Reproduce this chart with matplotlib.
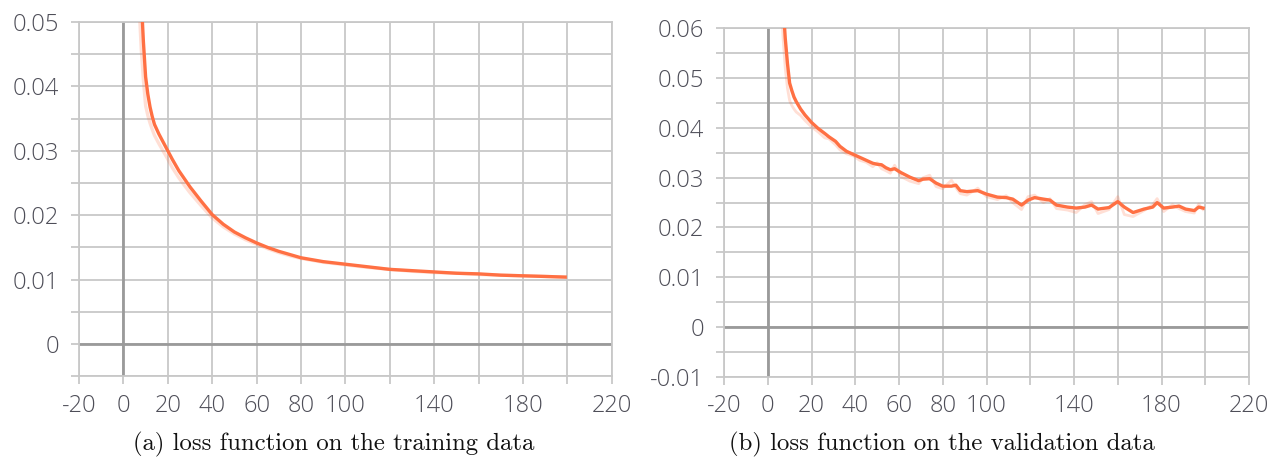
import matplotlib
matplotlib.use("Agg")
import matplotlib.pyplot as plt
from matplotlib.ticker import MultipleLocator

# ---------------- data ----------------
train_epochs = [1, 2, 4, 6, 8, 9, 10, 11, 12, 13, 14, 16, 18, 20, 22, 25, 28, 30, 35, 40,
                45, 50, 55, 60, 65, 70, 75, 80, 90, 100, 110, 120, 130, 140, 150, 160, 170,
                180, 190, 199]
train_smooth = [0.30, 0.20, 0.12, 0.075, 0.054, 0.047, 0.0415, 0.0388, 0.0368, 0.0353,
                0.0341, 0.0326, 0.0313, 0.0300, 0.0287, 0.0269, 0.0254, 0.0244, 0.0222,
                0.0201, 0.0186, 0.0174, 0.0165, 0.0157, 0.0150, 0.0144, 0.0139, 0.0134,
                0.0128, 0.0124, 0.0120, 0.0116, 0.0114, 0.0112, 0.0110, 0.0109, 0.0107,
                0.0106, 0.0105, 0.0104]
train_raw = [0.25, 0.16, 0.09, 0.06, 0.046, 0.041, 0.037, 0.0355, 0.0343, 0.0333,
             0.0324, 0.0311, 0.0299, 0.0287, 0.0274, 0.0258, 0.0244, 0.0235, 0.0215,
             0.0196, 0.0182, 0.0171, 0.0162, 0.0155, 0.0148, 0.0142, 0.0137, 0.0133,
             0.0127, 0.0123, 0.0119, 0.0116, 0.0113, 0.0111, 0.0110, 0.0108, 0.0107,
             0.0106, 0.0105, 0.0104]

val_epochs = [3, 5, 7, 8, 9, 10, 11, 12, 13, 15, 17, 20, 23, 26, 28, 31, 33, 36, 39, 42,
              45, 48, 50, 52, 54, 56, 58, 61, 65, 69, 71, 74, 77, 80, 84, 86, 88, 91, 96, 100,
              105, 109, 112, 116, 119, 122, 126, 129, 132, 137, 141, 145, 148, 151, 156, 160,
              163, 167, 172, 176, 178, 181, 185, 188, 191, 195, 197, 199]
val_smooth = [0.12, 0.085, 0.065, 0.058, 0.053, 0.049, 0.0475, 0.0462, 0.0453, 0.0438,
              0.0426, 0.0411, 0.0399, 0.0389, 0.0382, 0.0373, 0.0363, 0.0353, 0.0347, 0.0341,
              0.0335, 0.0329, 0.0327, 0.0326, 0.0320, 0.0316, 0.0318, 0.0310, 0.0301, 0.0294,
              0.0297, 0.0298, 0.0289, 0.0283, 0.0283, 0.0285, 0.0274, 0.0272, 0.0274, 0.0267,
              0.0261, 0.0260, 0.0257, 0.0245, 0.0255, 0.0260, 0.0257, 0.0255, 0.0245, 0.0241,
              0.0239, 0.0241, 0.0245, 0.0237, 0.0240, 0.0252, 0.0241, 0.0230, 0.0237, 0.0241,
              0.0250, 0.0239, 0.0241, 0.0243, 0.0237, 0.0234, 0.0241, 0.0239]
val_raw = [0.10, 0.075, 0.058, 0.052, 0.048, 0.0455, 0.0445, 0.0438, 0.0432, 0.0425,
           0.0415, 0.0402, 0.0392, 0.0380, 0.0378, 0.0366, 0.0356, 0.0348, 0.0344, 0.0335,
           0.0331, 0.0322, 0.0330, 0.0318, 0.0314, 0.0309, 0.0325, 0.0302, 0.0293, 0.0288,
           0.0300, 0.0305, 0.0282, 0.0278, 0.0295, 0.0280, 0.0268, 0.0265, 0.0279, 0.0262,
           0.0256, 0.0264, 0.0250, 0.0236, 0.0262, 0.0265, 0.0250, 0.0258, 0.0238, 0.0235,
           0.0230, 0.0246, 0.0252, 0.0228, 0.0236, 0.0262, 0.0226, 0.0222, 0.0234, 0.0246,
           0.0258, 0.0232, 0.0246, 0.0238, 0.0232, 0.0229, 0.0247, 0.0236]

x_ticks = [-20, 0, 20, 40, 60, 80, 100, 120, 140, 160, 180, 200, 220]
x_tick_labels = ["-20", "0", "20", "40", "60", "80", "100", "", "140", "", "180", "", "220"]

left_yticks = [0, 0.01, 0.02, 0.03, 0.04, 0.05]
left_ylabels = ["0", "0.01", "0.02", "0.03", "0.04", "0.05"]
right_yticks = [-0.01, 0, 0.01, 0.02, 0.03, 0.04, 0.05, 0.06]
right_ylabels = ["-0.01", "0", "0.01", "0.02", "0.03", "0.04", "0.05", "0.06"]

captions = ["(a) loss function on the training data",
            "(b) loss function on the validation data"]

# ---------------- style ----------------
LINE = "#ff7043"
GRID = "#c8c8c8"
ZERO = "#9a9a9a"
LABEL = "#4e4e58"
TICKFONT = dict(family=["Open Sans", "DejaVu Sans"], weight="light", size=17)

fig = plt.figure(figsize=(12.82, 4.59), dpi=100)
W, H = 1282, 459


def make_axes(px_left, px_right, px_top, px_bottom):
    return fig.add_axes([px_left / W, 1 - px_bottom / H,
                         (px_right - px_left) / W, (px_bottom - px_top) / H])


def style(ax, ylo, yhi, yticks, ylabels):
    ax.set_xlim(-20, 220)
    ax.set_ylim(ylo, yhi)
    ax.set_xticks(x_ticks)
    ax.set_xticklabels(x_tick_labels, color=LABEL, **TICKFONT)
    ax.set_yticks(yticks)
    ax.set_yticklabels(ylabels, color=LABEL, **TICKFONT)
    ax.yaxis.set_minor_locator(MultipleLocator(0.005))
    ax.grid(True, which="both", color=GRID, lw=1.3)
    ax.set_axisbelow(True)
    for s in ax.spines.values():
        s.set_color(GRID)
        s.set_linewidth(1.3)
    ax.tick_params(axis="both", which="both", direction="out", length=5.5,
                   width=1.3, color=GRID)
    ax.tick_params(axis="y", pad=9)
    ax.tick_params(axis="x", pad=7)
    ax.axhline(0, color=ZERO, lw=2.0, zorder=1.5)
    ax.axvline(0, color=ZERO, lw=2.0, zorder=1.5)


ax1 = make_axes(79.0, 611.8, 22.0, 376.3)
style(ax1, -0.005, 0.05, left_yticks, left_ylabels)
ax1.plot(train_epochs, train_raw, color=LINE, alpha=0.22, lw=2.4, zorder=3)
ax1.plot(train_epochs, train_smooth, color=LINE, lw=2.4, zorder=4)

ax2 = make_axes(724.0, 1249.0, 28.3, 376.9)
style(ax2, -0.01, 0.06, right_yticks, right_ylabels)
ax2.plot(val_epochs, val_raw, color=LINE, alpha=0.22, lw=2.0, zorder=3)
ax2.plot(val_epochs, val_smooth, color=LINE, lw=2.4, zorder=4)

fig.text(334 / W, 1 - 444 / H, captions[0], ha="center", va="center",
         family="cmr10", size=17.8, color="#111111")
fig.text(942 / W, 1 - 444 / H, captions[1], ha="center", va="center",
         family="cmr10", size=17.8, color="#111111")

fig.savefig("out.png", dpi=100, facecolor="white")
